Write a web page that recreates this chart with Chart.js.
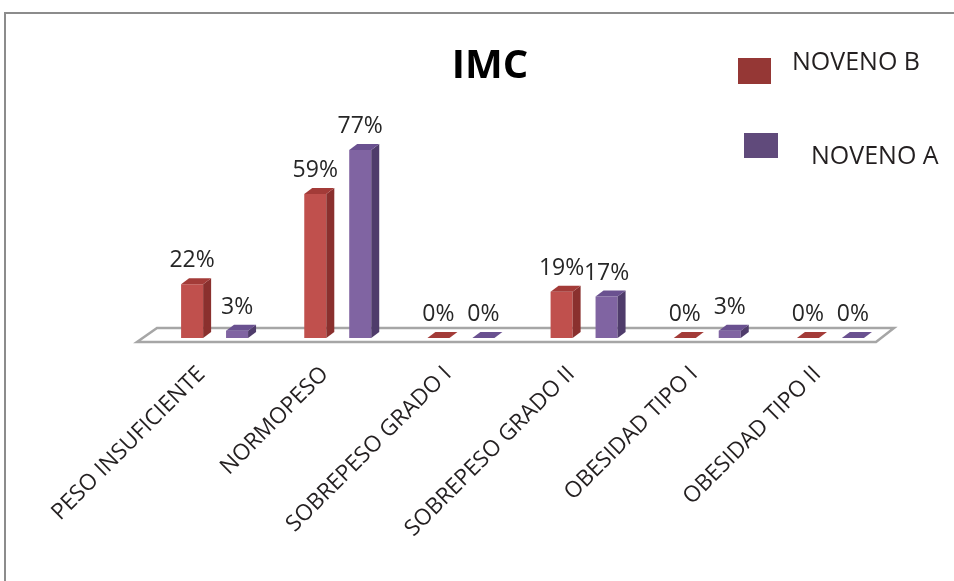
<!DOCTYPE html>
<html>
<head>
<meta charset="utf-8">
<script src="https://cdn.jsdelivr.net/npm/chart.js@4.4.1/dist/chart.umd.min.js"></script>
<style>
  html, body { margin: 0; padding: 0; background: #fff; }
  .chart-container { position: relative; width: 954px; height: 581px; }
</style>
</head>
<body>
<div class="chart-container"><canvas id="imcChart" width="954" height="581"></canvas></div>
<script>
// Data
const chartTitle = 'IMC';
const categories = ['PESO INSUFICIENTE', 'NORMOPESO', 'SOBREPESO GRADO I', 'SOBREPESO GRADO II', 'OBESIDAD TIPO I', 'OBESIDAD TIPO II'];
const seriesNames = ['NOVENO B', 'NOVENO A'];
const novenoB = [22, 59, 0, 19, 0, 0];
const novenoA = [3, 77, 0, 17, 3, 0];

// Face colours for the fake 3D bars: front, side, top
const redFaces = ['#C0504D', '#8A302E', '#A33B38'];
const purpleFaces = ['#8064A2', '#4F3C6B', '#6A5190'];
const legendColors = ['#953735', '#604A7B'];
const depthX = 8, depthY = 6;

// Page border, floor and the side/top faces of each bar
const boxPlugin = {
    id: 'box3d',
    beforeDraw(chart) {
        const c = chart.ctx;
        c.save();
        c.fillStyle = '#fff';
        c.fillRect(0, 0, chart.width, chart.height);
        c.strokeStyle = '#8C8C8C';
        c.lineWidth = 2;
        c.beginPath();
        c.moveTo(5, chart.height);
        c.lineTo(5, 13);
        c.lineTo(chart.width, 13);
        c.stroke();
        c.restore();
    },
    beforeDatasetsDraw(chart) {
        const c = chart.ctx;
        const a = chart.chartArea;
        c.save();
        c.beginPath();
        c.moveTo(a.left + 4, a.bottom - 10);
        c.lineTo(a.right + 2, a.bottom - 10);
        c.lineTo(a.right - 16, a.bottom + 4);
        c.lineTo(a.left - 16, a.bottom + 4);
        c.closePath();
        c.fillStyle = '#fff';
        c.fill();
        c.strokeStyle = '#A6A6A6';
        c.lineWidth = 2.5;
        c.stroke();
        c.restore();
    },
    afterDatasetsDraw(chart) {
        const c = chart.ctx;
        c.save();
        chart.data.datasets.forEach((ds, i) => {
            const meta = chart.getDatasetMeta(i);
            meta.data.forEach((bar, j) => {
                const l = bar.x - bar.width / 2;
                const r = bar.x + bar.width / 2;
                const top = bar.y;
                const base = bar.base;
                // side
                c.fillStyle = ds.faces[1];
                c.beginPath();
                c.moveTo(r, base);
                c.lineTo(r, top);
                c.lineTo(r + depthX, top - depthY);
                c.lineTo(r + depthX, base - depthY);
                c.closePath();
                c.fill();
                // top
                c.fillStyle = ds.faces[2];
                c.beginPath();
                c.moveTo(l, top);
                c.lineTo(r, top);
                c.lineTo(r + depthX, top - depthY);
                c.lineTo(l + depthX, top - depthY);
                c.closePath();
                c.fill();
                // value label
                c.fillStyle = '#262626';
                c.font = '23px "Open Sans"';
                c.textAlign = 'center';
                c.textBaseline = 'alphabetic';
                c.fillText(ds.data[j] + '%', bar.x, top - depthY - 11);
            });
        });

        // title
        c.fillStyle = '#000';
        c.font = 'bold 40px "Open Sans"';
        c.textAlign = 'center';
        c.textBaseline = 'alphabetic';
        c.fillText(chartTitle, 490, 78);

        // legend
        const boxes = [[738, 58, 33, 26, 792, 63], [744, 133, 34, 25, 811, 157]];
        c.font = '25px "Open Sans"';
        c.textAlign = 'left';
        c.textBaseline = 'middle';
        chart.data.datasets.forEach((ds, i) => {
            const b = boxes[i];
            c.fillStyle = legendColors[i];
            c.fillRect(b[0], b[1], b[2], b[3]);
            c.fillStyle = '#231F20';
            c.fillText(ds.label, b[4], b[5]);
        });
        c.restore();
    }
};

const ctx = document.getElementById('imcChart').getContext('2d');
const imcChart = new Chart(ctx, {
    type: 'bar',
    data: {
        labels: categories,
        datasets: [{
            label: seriesNames[0],
            data: novenoB,
            backgroundColor: redFaces[0],
            faces: redFaces,
            categoryPercentage: 0.73,
            barPercentage: 0.49
        }, {
            label: seriesNames[1],
            data: novenoA,
            backgroundColor: purpleFaces[0],
            faces: purpleFaces,
            categoryPercentage: 0.73,
            barPercentage: 0.49
        }]
    },
    options: {
        responsive: false,
        animation: false,
        layout: {
            padding: { left: 153, right: 62, top: 94, bottom: 0 }
        },
        plugins: {
            legend: { display: false },
            title: { display: false },
            tooltip: { enabled: false }
        },
        scales: {
            x: {
                grid: { display: false, drawTicks: false },
                border: { display: false },
                ticks: {
                    color: '#231F20',
                    font: { family: 'Open Sans', size: 22.5 },
                    minRotation: 45,
                    maxRotation: 45,
                    autoSkip: false,
                    padding: 23,
                    labelOffset: -13
                },
                afterFit(scale) {
                    scale.height = 243;
                }
            },
            y: {
                display: false,
                min: 0,
                max: 100
            }
        }
    },
    plugins: [boxPlugin]
});
</script>
</body>
</html>
